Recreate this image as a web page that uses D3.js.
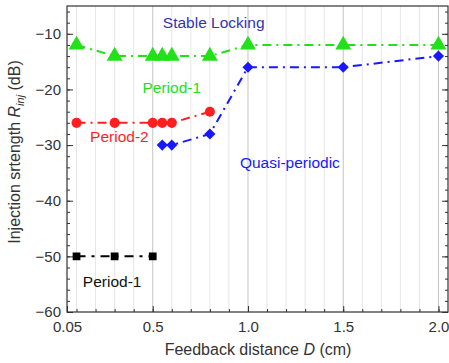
<!DOCTYPE html>
<html>
<head>
<meta charset="utf-8">
<script src="https://cdn.jsdelivr.net/npm/d3@7"></script>
<style>
  body { margin: 0; background: #fff; }
  text { font-family: Arial, "Liberation Sans", sans-serif; }
</style>
</head>
<body>
<div id="chart"></div>
<script>
// data
const xs = [0.1, 0.3, 0.5, 0.55, 0.6, 0.8, 1.0, 1.5, 2.0];
const greenY = [-12, -14, -14, -14, -14, -14, -12, -12, -12];
const redX = [0.1, 0.3, 0.5, 0.55, 0.6, 0.8];
const redY = [-26, -26, -26, -26, -26, -24];
const blueX = [0.55, 0.6, 0.8, 1.0, 1.5, 2.0];
const blueY = [-30, -30, -28, -16, -16, -14];
const blackX = [0.1, 0.3, 0.5];
const blackY = [-50, -50, -50];
const xTicks = [0.05, 0.5, 1.0, 1.5, 2.0];
const yTicks = [-60, -50, -40, -30, -20, -10];

const W = 449, H = 363;
const margin = { top: 6, right: 1, bottom: 51, left: 67 };
const iw = W - margin.left - margin.right;
const ih = H - margin.top - margin.bottom;

const svg = d3.select('#chart').append('svg')
  .attr('width', W).attr('height', H);
const g = svg.append('g')
  .attr('transform', 'translate(' + margin.left + ',' + margin.top + ')');

const x = d3.scaleLinear().domain([0.05, 2.05]).range([0, iw]);
const y = d3.scaleLinear().domain([-60, -5]).range([ih, 0]);

/* ---------- grid ---------- */
const minorX = d3.range(1, 21).map(i => i / 10);
g.append('g').selectAll('line').data(minorX).enter().append('line')
  .attr('x1', d => x(d)).attr('x2', d => x(d))
  .attr('y1', 0).attr('y2', ih)
  .attr('stroke', d => (Math.round(d * 10) % 5 === 0) ? '#c4c4c4' : '#e6e6e6')
  .attr('stroke-width', 1);

/* ---------- axes ---------- */
const fmtX = d => d === 0.05 ? '0.05' : d3.format('.1f')(d);
const axisStyle = sel => {
  sel.select('.domain').remove();
  sel.selectAll('line').attr('stroke', '#333');
  sel.selectAll('text').attr('fill', '#333').style('font-size', '15px');
};

g.append('g').attr('transform', 'translate(0,' + ih + ')')
  .call(d3.axisBottom(x).tickValues(minorX).tickSize(-3).tickFormat(''))
  .call(axisStyle);
g.append('g').attr('transform', 'translate(0,' + ih + ')')
  .call(d3.axisBottom(x).tickValues(xTicks).tickSize(-6).tickPadding(9).tickFormat(fmtX))
  .call(axisStyle);

const minorY = d3.range(-60, -4, 2);
g.append('g')
  .call(d3.axisLeft(y).tickValues(minorY).tickSize(-3).tickFormat(''))
  .call(axisStyle);
g.append('g')
  .call(d3.axisLeft(y).tickValues(yTicks).tickSize(-6).tickPadding(6))
  .call(axisStyle);
g.append('g').attr('transform', 'translate(' + iw + ',0)')
  .call(d3.axisRight(y).tickValues(minorY).tickSize(-3).tickFormat(''))
  .call(axisStyle);
g.append('g').attr('transform', 'translate(' + iw + ',0)')
  .call(d3.axisRight(y).tickValues(yTicks).tickSize(-6).tickFormat(''))
  .call(axisStyle);

g.append('rect').attr('width', iw).attr('height', ih)
  .attr('fill', 'none').attr('stroke', '#333').attr('stroke-width', 1.2);

/* ---------- series ---------- */
const line = d3.line().x(d => x(d[0])).y(d => y(d[1]));
const series = [
  { xv: xs, yv: greenY, color: '#22e01a', dash: '9,5,2,5', sym: d3.symbolTriangle, size: 110, rot: 0 },
  { xv: redX, yv: redY, color: '#ff1f1f', dash: '9,5,2,5', sym: d3.symbolCircle, size: 80, rot: 0 },
  { xv: blueX, yv: blueY, color: '#1818ff', dash: '9,5,2,5', sym: d3.symbolSquare, size: 62, rot: 45 },
  { xv: blackX, yv: blackY, color: '#000', dash: '9,6,3,6', sym: d3.symbolSquare, size: 60, rot: 0 }
];
series.forEach(s => {
  const pts = s.xv.map((v, i) => [v, s.yv[i]]);
  g.append('path').datum(pts)
    .attr('d', line).attr('fill', 'none')
    .attr('stroke', s.color).attr('stroke-width', 2)
    .attr('stroke-dasharray', s.dash);
  g.append('g').selectAll('path').data(pts).enter().append('path')
    .attr('transform', d => 'translate(' + x(d[0]) + ',' + y(d[1]) + ') rotate(' + s.rot + ')')
    .attr('d', d3.symbol().type(s.sym).size(s.size))
    .attr('fill', s.color);
});

/* ---------- region labels ---------- */
const labels = [
  { t: 'Stable Locking', xv: 0.82, yv: -8.2, c: '#3333b0' },
  { t: 'Period-1', xv: 0.6, yv: -19.9, c: '#22e01a' },
  { t: 'Period-2', xv: 0.325, yv: -28.7, c: '#ff1f1f' },
  { t: 'Quasi-periodic', xv: 1.22, yv: -33.4, c: '#1818ff' },
  { t: 'Period-1', xv: 0.287, yv: -54.8, c: '#111' }
];
g.append('g').selectAll('text').data(labels).enter().append('text')
  .attr('x', d => x(d.xv)).attr('y', d => y(d.yv))
  .attr('text-anchor', 'middle').attr('dominant-baseline', 'middle')
  .style('font-size', '15.5px').attr('fill', d => d.c)
  .text(d => d.t);

/* ---------- axis titles ---------- */
const xt = svg.append('text')
  .attr('x', 258).attr('y', 355)
  .attr('text-anchor', 'middle').style('font-size', '16px').attr('fill', '#333');
xt.append('tspan').text('Feedback distance ');
xt.append('tspan').style('font-style', 'italic').text('D');
xt.append('tspan').text(' (cm)');

const yt = svg.append('text')
  .attr('transform', 'translate(20,152) rotate(-90)')
  .attr('text-anchor', 'middle').style('font-size', '16px').attr('fill', '#333');
yt.append('tspan').text('Injection srtength ');
yt.append('tspan').style('font-style', 'italic').text('R');
yt.append('tspan').style('font-style', 'italic').style('font-size', '11px').attr('dy', 4).text('inj');
yt.append('tspan').attr('dy', -4).text(' (dB)');
</script>
</body>
</html>
